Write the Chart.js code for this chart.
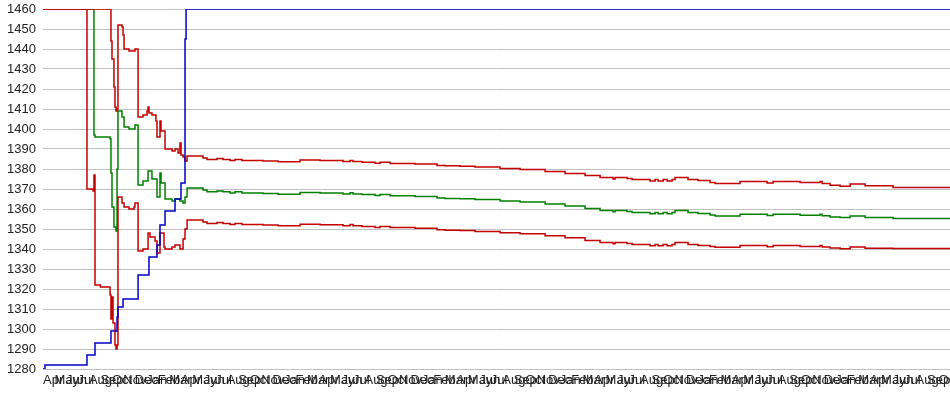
<!DOCTYPE html>
<html>
<head>
<meta charset="utf-8">
<script src="https://cdn.jsdelivr.net/npm/chart.js@4/dist/chart.umd.min.js"></script>
<style>
  html, body { margin: 0; padding: 0; background: #fff; }
  #myChart { display: block; }
</style>
</head>
<body>
<canvas id="myChart" width="950" height="395"></canvas>
<script>
// Tick labels, one per month (x value = month index)
const monthLabels = [
    'Apr', 'May', 'Jun', 'Jul', 'Aug', 'Sep', 'Oct', 'Nov', 'Dec', 'Jan', 'Feb', 'Mar',
    'Apr', 'May', 'Jun', 'Jul', 'Aug', 'Sep', 'Oct', 'Nov', 'Dec', 'Jan', 'Feb', 'Mar',
    'Apr', 'May', 'Jun', 'Jul', 'Aug', 'Sep', 'Oct', 'Nov', 'Dec', 'Jan', 'Feb', 'Mar',
    'Apr', 'May', 'Jun', 'Jul', 'Aug', 'Sep', 'Oct', 'Nov', 'Dec', 'Jan', 'Feb', 'Mar',
    'Apr', 'May', 'Jun', 'Jul', 'Aug', 'Sep', 'Oct', 'Nov', 'Dec', 'Jan', 'Feb', 'Mar',
    'Apr', 'May', 'Jun', 'Jul', 'Aug', 'Sep', 'Oct', 'Nov', 'Dec', 'Jan', 'Feb', 'Mar',
    'Apr', 'May', 'Jun', 'Jul', 'Aug', 'Sep', 'Oct'
];

// Step series: [month, value]; each value holds until the next point
const blueSteps = [
    [0, 1280], [0.17, 1282], [3.83, 1287], [4.53, 1293], [5.92, 1299], [6.45, 1306],
    [6.53, 1311], [6.97, 1315], [8.28, 1327], [9.23, 1336], [9.93, 1342], [10.19, 1352],
    [10.63, 1359], [11.5, 1365], [12.02, 1373], [12.37, 1445], [12.46, 1460], [79, 1460]
];

const upperSteps = [
    [0, 1460], [5.92, 1444], [6.01, 1435], [6.18, 1421], [6.27, 1411], [6.36, 1409],
    [6.45, 1410], [6.53, 1452], [6.88, 1451], [6.97, 1447], [7.06, 1440], [7.49, 1439],
    [8.01, 1440], [8.28, 1406], [8.71, 1407], [9.06, 1409], [9.15, 1411], [9.23, 1408],
    [9.49, 1407], [9.84, 1404], [9.93, 1396], [10.19, 1404], [10.28, 1399], [10.63, 1390],
    [11.24, 1389], [11.5, 1390], [11.76, 1388], [11.93, 1393], [12.02, 1387], [12.2, 1386],
    [12.37, 1384], [12.55, 1386.5], [13.94, 1385.5], [14.29, 1384.8], [15.16, 1385.3],
    [15.68, 1384.8], [16.29, 1384.3], [16.72, 1384.8], [17.33, 1384.3], [19.16, 1384],
    [20.47, 1383.6], [22.39, 1384.5], [24.13, 1384.2], [26.13, 1383.7], [26.74, 1384.3],
    [27.0, 1383.7], [27.79, 1383.4], [28.92, 1382.9], [29.36, 1383.4], [30.23, 1382.8],
    [32.4, 1382.5], [34.32, 1381.8], [35.02, 1381.6], [36.32, 1381.4], [37.63, 1381],
    [39.81, 1380.3], [41.55, 1379.8], [43.73, 1378.8], [45.47, 1377.8], [47.21, 1376.8],
    [48.52, 1375.7], [49.65, 1375], [49.83, 1375.7], [50.87, 1375.2], [51.31, 1374.8],
    [52.87, 1374], [53.31, 1374.8], [53.57, 1374], [54.01, 1374.8], [54.36, 1374],
    [54.79, 1374.8], [55.05, 1375.7], [56.18, 1374.8], [57.06, 1374.2], [58.1, 1373.2],
    [58.54, 1372.8], [60.71, 1373.7], [63.07, 1373], [63.59, 1373.7], [65.94, 1373.2],
    [67.68, 1373.7], [67.86, 1372.8], [68.55, 1371.9], [69.43, 1371.4], [70.3, 1372.5],
    [71.6, 1371.6], [74.04, 1370.8], [79, 1370.8]
];

const middleSteps = [
    [0, 1460], [4.44, 1397], [4.53, 1396], [5.84, 1395], [5.92, 1378], [6.01, 1361],
    [6.18, 1351], [6.36, 1349], [6.45, 1380], [6.53, 1409], [6.88, 1406], [7.06, 1401],
    [7.49, 1400], [8.01, 1402], [8.28, 1372], [8.71, 1374], [9.15, 1379], [9.49, 1375],
    [9.93, 1366], [10.19, 1378], [10.28, 1373], [10.63, 1365], [11.24, 1364], [11.5, 1365],
    [11.93, 1364], [12.2, 1363], [12.37, 1366], [12.55, 1370.5], [13.94, 1369.5],
    [14.29, 1368.6], [15.16, 1369], [15.68, 1368.6], [16.29, 1368], [16.72, 1368.6],
    [17.33, 1368], [19.16, 1367.8], [20.47, 1367.4], [22.39, 1368.3], [24.13, 1368],
    [26.13, 1367.5], [26.74, 1368.1], [27.0, 1367.5], [27.79, 1367.2], [28.92, 1366.7],
    [29.36, 1367.2], [30.23, 1366.6], [32.4, 1366.3], [34.32, 1365.5], [35.02, 1365.3],
    [36.32, 1365.1], [37.63, 1364.7], [39.81, 1364], [41.55, 1363.5], [43.73, 1362.5],
    [45.47, 1361.5], [47.21, 1360.3], [48.52, 1359.2], [49.65, 1358.6], [49.83, 1359.2],
    [50.87, 1358.8], [51.31, 1358.3], [52.87, 1357.6], [53.31, 1358.3], [53.57, 1357.6],
    [54.01, 1358.3], [54.36, 1357.6], [54.79, 1358.3], [55.05, 1359.2], [56.18, 1358.3],
    [57.06, 1357.8], [58.1, 1357], [58.54, 1356.5], [60.71, 1357.4], [63.07, 1356.7],
    [63.59, 1357.4], [65.94, 1356.9], [67.68, 1357.4], [67.86, 1356.6], [68.55, 1356],
    [69.43, 1355.7], [70.3, 1356.5], [71.6, 1355.8], [74.04, 1355.3], [79, 1355.3]
];

const lowerSteps = [
    [0, 1460], [3.83, 1370], [4.36, 1369], [4.44, 1377], [4.53, 1322], [5.0, 1321],
    [5.84, 1317], [5.92, 1305], [6.01, 1316], [6.1, 1303], [6.27, 1292], [6.36, 1290],
    [6.45, 1292], [6.53, 1366], [6.88, 1363], [7.06, 1361], [7.49, 1360], [7.93, 1361],
    [8.01, 1363], [8.28, 1339], [8.71, 1340], [9.15, 1348], [9.32, 1346], [9.76, 1344],
    [9.93, 1338], [10.19, 1348], [10.54, 1341], [10.63, 1340], [11.24, 1341], [11.5, 1342],
    [11.93, 1340], [12.2, 1345], [12.37, 1350], [12.55, 1354.5], [13.94, 1353.5],
    [14.29, 1352.8], [15.16, 1353.2], [15.68, 1352.8], [16.29, 1352.3], [16.72, 1352.8],
    [17.33, 1352.3], [19.16, 1352], [20.47, 1351.6], [22.39, 1352.4], [24.13, 1352.1],
    [26.13, 1351.6], [26.74, 1352.2], [27.0, 1351.6], [27.79, 1351.3], [28.92, 1350.8],
    [29.36, 1351.3], [30.23, 1350.7], [32.4, 1350.4], [34.32, 1349.6], [35.02, 1349.4],
    [36.32, 1349.2], [37.63, 1348.8], [39.81, 1348.1], [41.55, 1347.6], [43.73, 1346.6],
    [45.47, 1345.6], [47.21, 1344.3], [48.52, 1343.2], [49.65, 1342.6], [49.83, 1343.2],
    [50.87, 1342.8], [51.31, 1342.3], [52.87, 1341.6], [53.31, 1342.3], [53.57, 1341.6],
    [54.01, 1342.3], [54.36, 1341.6], [54.79, 1342.3], [55.05, 1343.2], [56.18, 1342.3],
    [57.06, 1341.8], [58.1, 1341.2], [58.54, 1340.9], [60.71, 1341.7], [63.07, 1341.1],
    [63.59, 1341.7], [65.94, 1341.3], [67.68, 1341.7], [67.86, 1341], [68.55, 1340.5],
    [69.43, 1340.1], [70.3, 1341], [71.6, 1340.4], [74.04, 1340.3], [79, 1340.3]
];

const yMin = 1280;
const yMax = 1460;
const yStep = 10;

function toPoints(steps) {
    return steps.map(([x, y]) => ({ x: x, y: y }));
}

function stepDataset(steps, color) {
    return {
        data: toPoints(steps),
        borderColor: color,
        borderWidth: 1.5,
        stepped: true,
        pointRadius: 0,
        fill: false
    };
}

const axisFont = { family: 'Liberation Sans, Arial, sans-serif', size: 13 };

const ctx = document.getElementById('myChart').getContext('2d');

const myChart = new Chart(ctx, {
    type: 'line',
    data: {
        datasets: [
            stepDataset(blueSteps, '#0000c8'),
            stepDataset(upperSteps, '#c40000'),
            stepDataset(lowerSteps, '#c40000'),
            stepDataset(middleSteps, '#008000')
        ]
    },
    options: {
        responsive: false,
        animation: false,
        devicePixelRatio: 1,
        layout: { padding: { top: 9, left: 0, right: 0, bottom: 0 } },
        plugins: {
            legend: { display: false },
            tooltip: { enabled: false }
        },
        scales: {
            x: {
                type: 'linear',
                min: 0,
                max: monthLabels.length,
                grid: { display: false, drawTicks: false },
                border: { display: false },
                afterBuildTicks: (scale) => {
                    scale.ticks = monthLabels.map((_, i) => ({ value: i }));
                },
                afterFit: (scale) => {
                    scale.height = 26;
                    scale.paddingLeft = 0;
                    scale.paddingRight = 0;
                },
                ticks: {
                    autoSkip: false,
                    maxRotation: 0,
                    minRotation: 0,
                    align: 'start',
                    padding: 4,
                    color: '#222',
                    font: axisFont,
                    callback: (value) => monthLabels[value]
                }
            },
            y: {
                min: yMin,
                max: yMax,
                grid: { color: '#c0c0c0', lineWidth: 1, drawTicks: false },
                border: { display: false },
                afterFit: (scale) => {
                    scale.width = 43;
                    scale.paddingTop = 0;
                    scale.paddingBottom = 0;
                },
                ticks: {
                    stepSize: yStep,
                    padding: 7,
                    color: '#222',
                    font: axisFont,
                    callback: (value) => String(value)
                }
            }
        }
    }
});
</script>
</body>
</html>
